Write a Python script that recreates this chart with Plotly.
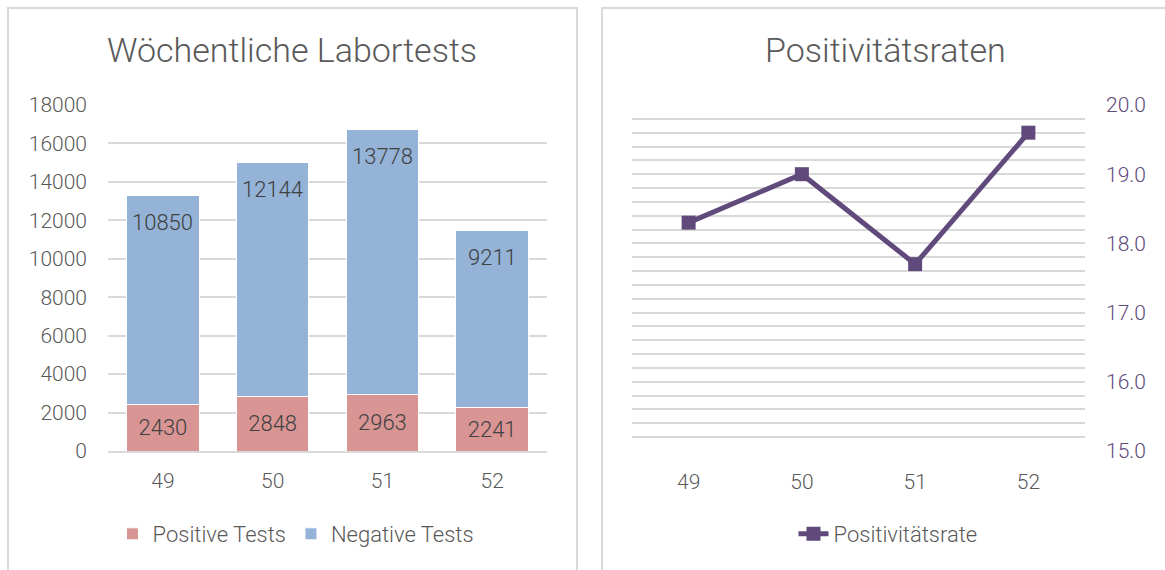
import plotly.graph_objects as go

weeks = ["49", "50", "51", "52"]
positive_tests = [2430, 2848, 2963, 2241]
negative_tests = [10850, 12144, 13778, 9211]
positivity_rate = [18.3, 19.0, 17.7, 19.6]

W, H = 1165, 570
FONT = "Roboto"
GRAY = "#595959"
GRID = "#d9d9d9"
PURPLE = "#604a7b"

def px_x(v):
    return v / W

def px_y(v):
    return 1 - v / H

lbl = dict(color="#404040", size=22, family=FONT, weight=300)
tf = dict(size=21, color=GRAY, family=FONT, weight=300)

fig = go.Figure()

fig.add_trace(go.Bar(
    x=weeks, y=positive_tests, name="Positive Tests",
    marker=dict(color="#d99594", line=dict(color="white", width=1)),
    text=[str(v) for v in positive_tests], textposition="inside",
    insidetextanchor="middle", textfont=lbl,
    xaxis="x", yaxis="y", legend="legend",
))
fig.add_trace(go.Bar(
    x=weeks, y=negative_tests, name="Negative Tests",
    marker=dict(color="#95b3d7", line=dict(color="white", width=1)),
    xaxis="x", yaxis="y", legend="legend",
))

totals = [p + n for p, n in zip(positive_tests, negative_tests)]
for i, (t, n) in enumerate(zip(totals, negative_tests)):
    fig.add_annotation(x=i, y=t, xref="x", yref="y", text=str(n), showarrow=False,
                       xanchor="center", yanchor="middle", yshift=-27, font=lbl)

fig.add_trace(go.Scatter(
    x=weeks, y=positivity_rate, name="Positivitätsrate", mode="lines+markers",
    line=dict(color=PURPLE, width=5),
    marker=dict(symbol="square", size=14, color=PURPLE),
    xaxis="x2", yaxis="y2", legend="legend2",
))

ydom = [px_y(451), px_y(105)]

fig.update_layout(
    width=W, height=H,
    margin=dict(l=0, r=0, t=0, b=0, autoexpand=False),
    paper_bgcolor="white", plot_bgcolor="white",
    barmode="stack", bargap=0.34,
    font=dict(family=FONT, color=GRAY, size=21, weight=300),
    xaxis=dict(type="category", range=[-0.5, len(weeks) - 0.5],
               domain=[px_x(108), px_x(547)], showgrid=False, showline=True,
               linecolor=GRID, linewidth=2, ticks="", ticklabelstandoff=10,
               tickfont=tf, anchor="y"),
    yaxis=dict(domain=ydom, range=[0, 18000], dtick=2000, tickformat="d", showgrid=True,
               gridcolor=GRID, gridwidth=1.5, zeroline=False, showline=False,
               ticks="", ticklabelstandoff=20, tickfont=tf, anchor="x"),
    xaxis2=dict(type="category", range=[-0.5, len(weeks) - 0.5],
                domain=[px_x(632), px_x(1085)], showgrid=False, showline=False,
                ticks="", ticklabelstandoff=16, tickfont=tf, anchor="y2"),
    yaxis2=dict(domain=ydom, range=[15, 20], dtick=1, tickformat=".1f", side="right",
                showgrid=True, gridcolor=GRID, gridwidth=1.5, zeroline=False,
                showline=False, ticks="", ticklabelstandoff=20,
                tickfont=dict(size=21, color=PURPLE, family=FONT, weight=300), anchor="x2",
                minor=dict(dtick=0.2, showgrid=True, gridcolor=GRID, gridwidth=1.5)),
    legend=dict(orientation="h", x=px_x(296), xanchor="center", y=px_y(534),
                yanchor="middle", font=dict(size=22, color=GRAY, family=FONT, weight=300),
                traceorder="normal"),
    legend2=dict(orientation="h", x=px_x(888), xanchor="center", y=px_y(534),
                 yanchor="middle", font=dict(size=22, color=GRAY, family=FONT, weight=300)),
    showlegend=True,
)

fig.add_annotation(x=px_x(292), y=px_y(50), xref="paper", yref="paper",
                   xanchor="center", yanchor="middle",
                   text="Wöchentliche Labortests", showarrow=False,
                   font=dict(size=34, color=GRAY, family=FONT, weight=300))
fig.add_annotation(x=px_x(885), y=px_y(50), xref="paper", yref="paper",
                   xanchor="center", yanchor="middle",
                   text="Positivitätsraten", showarrow=False,
                   font=dict(size=34, color=GRAY, family=FONT, weight=300))

fig.add_shape(type="rect", xref="paper", yref="paper",
              x0=px_x(8), x1=px_x(577), y0=px_y(590), y1=px_y(8),
              line=dict(color=GRID, width=2), fillcolor="rgba(0,0,0,0)", layer="below")
fig.add_shape(type="rect", xref="paper", yref="paper",
              x0=px_x(602), x1=px_x(1185), y0=px_y(590), y1=px_y(8),
              line=dict(color=GRID, width=2), fillcolor="rgba(0,0,0,0)", layer="below")

fig.write_html("out.html", config={"displayModeBar": False},
               post_script="document.body.style.margin='0px';")
